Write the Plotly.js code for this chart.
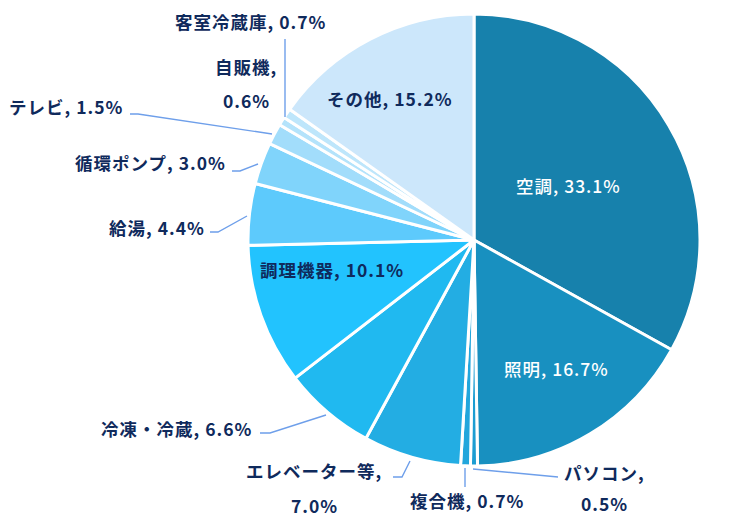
<!DOCTYPE html>
<html>
<head>
<meta charset="utf-8">
<script src="https://cdn.plot.ly/plotly-3.0.1.min.js"></script>
<style>
html,body{margin:0;padding:0;background:#fff;}
#chart{width:750px;height:522px;}
.annotation-text{letter-spacing:1px;}
</style>
</head>
<body>
<div id="chart"></div>
<script>
// ---- data ----
const labels = ["空調","照明","パソコン","複合機","エレベーター等","冷凍・冷蔵","調理機器","給湯","循環ポンプ","テレビ","自販機","客室冷蔵庫","その他"];
const values = [33.1,16.7,0.5,0.7,7.0,6.6,10.1,4.4,3.0,1.5,0.6,0.7,15.2];

// ---- styles ----
const colors = ["#1781AC","#1890C0","#1C9DD2","#22A6DC","#23ADE3","#20B9F0","#22C3FE","#5DCAFC","#80D4FB","#A2DDFB","#B4E3FB","#BEE6FB","#CCE7FB"];
const navy = "#0F2A5C";
const lineColor = "#6E9FEA";
const W = 750, H = 522;
const px = x => x / W, py = y => 1 - y / H;

// label placement (pixel centres); split = label and value on two lines
const labelPos = [
  {i:0, x:568, y:185, c:"#ffffff", w:500},
  {i:1, x:556, y:368, c:"#ffffff", w:500},
  {i:2, x:604, y:472, split:true, y2:503},
  {i:3, x:467, y:500},
  {i:4, x:314, y:470, split:true, y2:505},
  {i:5, x:176, y:428},
  {i:6, x:332, y:269},
  {i:7, x:157, y:227},
  {i:8, x:150, y:163},
  {i:9, x:66, y:107},
  {i:10, x:246, y:67, split:true, y2:100},
  {i:11, x:250, y:21},
  {i:12, x:390, y:98}
];
// leader lines (pixel polylines)
const leaders = [
  [[473,469],[558,477]],
  [[465,468],[465,487]],
  [[393,477],[402,477],[410,461]],
  [[260,433],[270,433],[326,415]],
  [[210,232],[218,232],[247,216]],
  [[232,171],[240,171],[258,164]],
  [[130,114],[138,114],[272,134]],
  [[285,39],[285,117]]
];

const annotations = [];
labelPos.forEach(p => {
  const base = {xref:"paper", yref:"paper", showarrow:false, xanchor:"center", yanchor:"middle",
    font:{family:"Noto Sans CJK JP, Noto Sans, sans-serif", size:17.5, color:p.c || navy, weight:p.w || 700}};
  if (p.split) {
    annotations.push(Object.assign({}, base, {x:px(p.x), y:py(p.y), text:labels[p.i] + ","}));
    annotations.push(Object.assign({}, base, {x:px(p.x), y:py(p.y2), text:values[p.i].toFixed(1) + "%"}));
  } else {
    annotations.push(Object.assign({}, base, {x:px(p.x), y:py(p.y), text:labels[p.i] + ", " + values[p.i].toFixed(1) + "%"}));
  }
});

const shapes = leaders.map(pts => ({
  type:"path", xref:"paper", yref:"paper",
  path: pts.map((q,k) => (k ? "L" : "M") + px(q[0]) + "," + py(q[1])).join(" "),
  line:{color:lineColor, width:1.4}
}));

const cx = 474, cy = 240, r = 226;
const trace = {
  type:"pie",
  labels: labels,
  values: values,
  sort:false,
  direction:"clockwise",
  rotation:0,
  textinfo:"none",
  hoverinfo:"label+percent",
  marker:{colors:colors, line:{color:"#ffffff", width:3}},
  domain:{x:[px(cx - r), px(cx + r)], y:[py(cy + r), py(cy - r)]},
  showlegend:false
};

const layout = {
  width:W, height:H,
  margin:{l:0,r:0,t:0,b:0},
  paper_bgcolor:"#ffffff",
  plot_bgcolor:"#ffffff",
  showlegend:false,
  annotations: annotations,
  shapes: shapes
};

Plotly.newPlot("chart", [trace], layout, {displayModeBar:false, staticPlot:true});
</script>
</body>
</html>
